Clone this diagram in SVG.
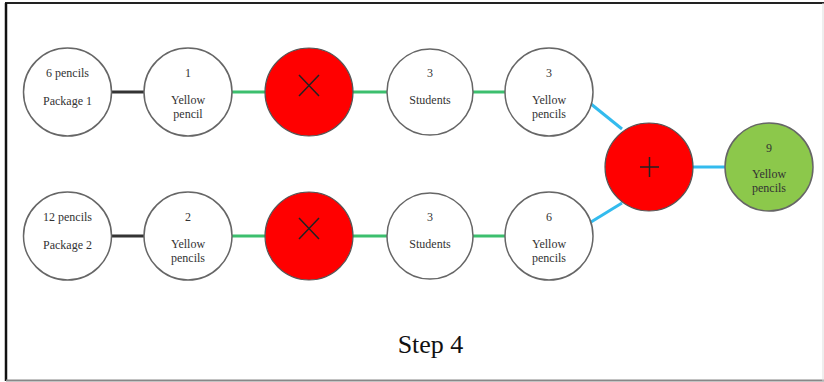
<svg xmlns="http://www.w3.org/2000/svg" width="824" height="382" viewBox="0 0 824 382">
<style>
.n{fill:#fff;stroke:#666;stroke-width:1.5}
.op{fill:#f00;stroke:#555;stroke-width:1.2}
.res{fill:#8cc84b;stroke:#666;stroke-width:1.5}
.t{font-family:"Liberation Serif","Times New Roman",serif;font-size:12px;fill:#333;text-anchor:middle}
.k{stroke:#333;stroke-width:3}
.g{stroke:#3cbf6e;stroke-width:3}
.c{stroke:#33bbee;stroke-width:3}
.m{stroke:#222;stroke-width:1.5;fill:none}
</style>
<rect x="0" y="0" width="824" height="382" fill="#fff"/>
<line x1="5" y1="3" x2="824" y2="3" stroke="#222" stroke-width="2"/>
<line x1="6" y1="3" x2="6" y2="381" stroke="#111" stroke-width="2.5"/>
<line x1="6" y1="380.5" x2="824" y2="380.5" stroke="#888" stroke-width="2"/>
<line x1="823" y1="3" x2="823" y2="381" stroke="#ddd" stroke-width="1"/>
<g id="connectors">
<line class="k" x1="111" y1="92" x2="145" y2="92"/>
<line class="g" x1="232" y1="92" x2="265" y2="92"/>
<line class="g" x1="353" y1="92" x2="387" y2="92"/>
<line class="g" x1="473" y1="92" x2="505" y2="92"/>
<line class="k" x1="111" y1="236" x2="145" y2="236"/>
<line class="g" x1="232" y1="236" x2="265" y2="236"/>
<line class="g" x1="353" y1="236" x2="387" y2="236"/>
<line class="g" x1="473" y1="236" x2="505" y2="236"/>
<line class="c" x1="591" y1="104" x2="622" y2="129"/>
<line class="c" x1="591" y1="222" x2="622" y2="203"/>
<line class="c" x1="693" y1="167" x2="725" y2="167"/>
</g>
<g id="pkg1"><circle class="n" cx="67.5" cy="92" r="44"/><text class="t" x="67.5" y="77">6 pencils</text><text class="t" x="67.5" y="105">Package 1</text></g>
<g id="yp1"><circle class="n" cx="188" cy="92" r="44"/><text class="t" x="188" y="77">1</text><text class="t" x="188" y="104">Yellow</text><text class="t" x="188" y="118">pencil</text></g>
<g id="mul1"><circle class="op" cx="309" cy="92" r="44"/><path class="m" d="M299 75 L319 96 M319 75 L299 96"/></g>
<g id="st1"><circle class="n" cx="430" cy="92" r="43"/><text class="t" x="430" y="77">3</text><text class="t" x="430" y="104">Students</text></g>
<g id="yp3"><circle class="n" cx="549" cy="92" r="44"/><text class="t" x="549" y="77">3</text><text class="t" x="549" y="104">Yellow</text><text class="t" x="549" y="118">pencils</text></g>
<g id="pkg2"><circle class="n" cx="67.5" cy="236" r="44"/><text class="t" x="67.5" y="221">12 pencils</text><text class="t" x="67.5" y="249">Package 2</text></g>
<g id="yp2"><circle class="n" cx="188" cy="236" r="44"/><text class="t" x="188" y="221">2</text><text class="t" x="188" y="248">Yellow</text><text class="t" x="188" y="262">pencils</text></g>
<g id="mul2"><circle class="op" cx="309" cy="236" r="44"/><path class="m" d="M299 218 L319 239 M319 218 L299 239"/></g>
<g id="st2"><circle class="n" cx="430" cy="236" r="43"/><text class="t" x="430" y="221">3</text><text class="t" x="430" y="248">Students</text></g>
<g id="yp6"><circle class="n" cx="549" cy="236" r="44"/><text class="t" x="549" y="221">6</text><text class="t" x="549" y="248">Yellow</text><text class="t" x="549" y="262">pencils</text></g>
<g id="plus"><circle class="op" cx="649" cy="167" r="44"/><path class="m" d="M640 167 L659 167 M649.5 157 L649.5 177"/></g>
<g id="result"><circle class="res" cx="769" cy="167" r="44"/><text class="t" x="769" y="152">9</text><text class="t" x="769" y="178">Yellow</text><text class="t" x="769" y="192">pencils</text></g>
<text x="430.5" y="353" font-family="'Liberation Serif','Times New Roman',serif" font-size="26" fill="#111" text-anchor="middle">Step 4</text>
</svg>
